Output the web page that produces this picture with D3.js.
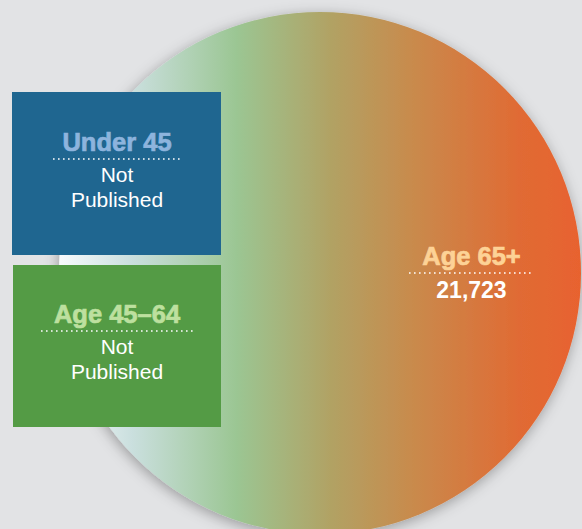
<!DOCTYPE html>
<html>
<head>
<meta charset="utf-8">
<script src="https://cdn.jsdelivr.net/npm/d3@7"></script>
<style>
html,body{margin:0;padding:0;background:#e2e3e5;}
svg{display:block;font-family:"Liberation Sans",Arial,Helvetica,sans-serif;}
</style>
</head>
<body>
<svg id="chart" width="582" height="529"></svg>
<script>
// ---- data ----
const categories = ["Under 45", "Age 45\u201364", "Age 65+"];
const values = [null, null, 21723];
const valueLabels = ["Not Published", "Not Published", "21,723"];

const W = 582, H = 529;
const svg = d3.select("#chart");
svg.append("rect").attr("width", W).attr("height", H).attr("fill", "#e2e3e5");

const defs = svg.append("defs");
const grad = defs.append("linearGradient").attr("id", "g65").attr("x1", "0").attr("x2", "1").attr("y1", "0").attr("y2", "0");
[[0, "#f8fbfd"], [0.14, "#cadfde"], [0.34, "#9bc693"], [0.52, "#b1a264"], [0.68, "#c98a4c"], [0.88, "#e06b34"], [1, "#e8622f"]]
  .forEach(([o, c]) => grad.append("stop").attr("offset", o).attr("stop-color", c));

const f = defs.append("filter").attr("id", "shadow").attr("x", "-20%").attr("y", "-20%").attr("width", "140%").attr("height", "140%");
f.append("feDropShadow").attr("dx", -1).attr("dy", 3).attr("stdDeviation", 7).attr("flood-color", "#000").attr("flood-opacity", 0.32);

// radius scale: the published value maps to the circle size
const rScale = d3.scaleSqrt().domain([0, d3.max(values)]).range([0, 261]);
const cx = 320, cy = 273;
const r = rScale(values[2]);

svg.append("circle").attr("cx", cx).attr("cy", cy).attr("r", r)
  .attr("fill", "url(#g65)").attr("filter", "url(#shadow)");

// boxes for unpublished categories
const boxes = [
  {x: 12, y: 92, w: 209, h: 163, fill: "#1f6690", title: "#8db4dd", ty: 151, ly: 159, lx1: 53, lx2: 181},
  {x: 13, y: 265, w: 208, h: 162, fill: "#549b45", title: "#bde09f", ty: 323, ly: 331, lx1: 41, lx2: 193}
];

boxes.forEach((b, i) => {
  const g = svg.append("g");
  g.append("rect").attr("x", b.x).attr("y", b.y).attr("width", b.w).attr("height", b.h).attr("fill", b.fill);
  const mx = (b.lx1 + b.lx2) / 2;
  g.append("text").attr("x", mx).attr("y", b.ty).attr("text-anchor", "middle")
    .attr("font-size", 25.5).attr("font-weight", "bold").attr("fill", b.title)
    .attr("stroke", b.title).attr("stroke-width", 0.7).text(categories[i]);
  g.append("line").attr("x1", b.lx1).attr("x2", b.lx2).attr("y1", b.ly).attr("y2", b.ly)
    .attr("stroke", "#ffffff").attr("stroke-width", 1.6).attr("stroke-dasharray", "1.6,3.4");
  const words = valueLabels[i].split(" ");
  words.forEach((w, k) => {
    g.append("text").attr("x", mx).attr("y", b.ty + 31 + k * 25).attr("text-anchor", "middle")
      .attr("font-size", 21).attr("fill", "#ffffff").text(w);
  });
});

// label for 65+
const lg = svg.append("g");
const lx = 471.5;
lg.append("text").attr("x", lx).attr("y", 265).attr("text-anchor", "middle")
  .attr("font-size", 25.5).attr("font-weight", "bold").attr("fill", "#fdd296")
  .attr("stroke", "#fdd296").attr("stroke-width", 0.7).text(categories[2]);
lg.append("line").attr("x1", 409).attr("x2", 534).attr("y1", 273).attr("y2", 273)
  .attr("stroke", "#ffffff").attr("stroke-width", 1.6).attr("stroke-dasharray", "1.6,3.4");
lg.append("text").attr("x", lx).attr("y", 298).attr("text-anchor", "middle")
  .attr("font-size", 23).attr("font-weight", "bold").attr("fill", "#ffffff").text(valueLabels[2]);
</script>
</body>
</html>
